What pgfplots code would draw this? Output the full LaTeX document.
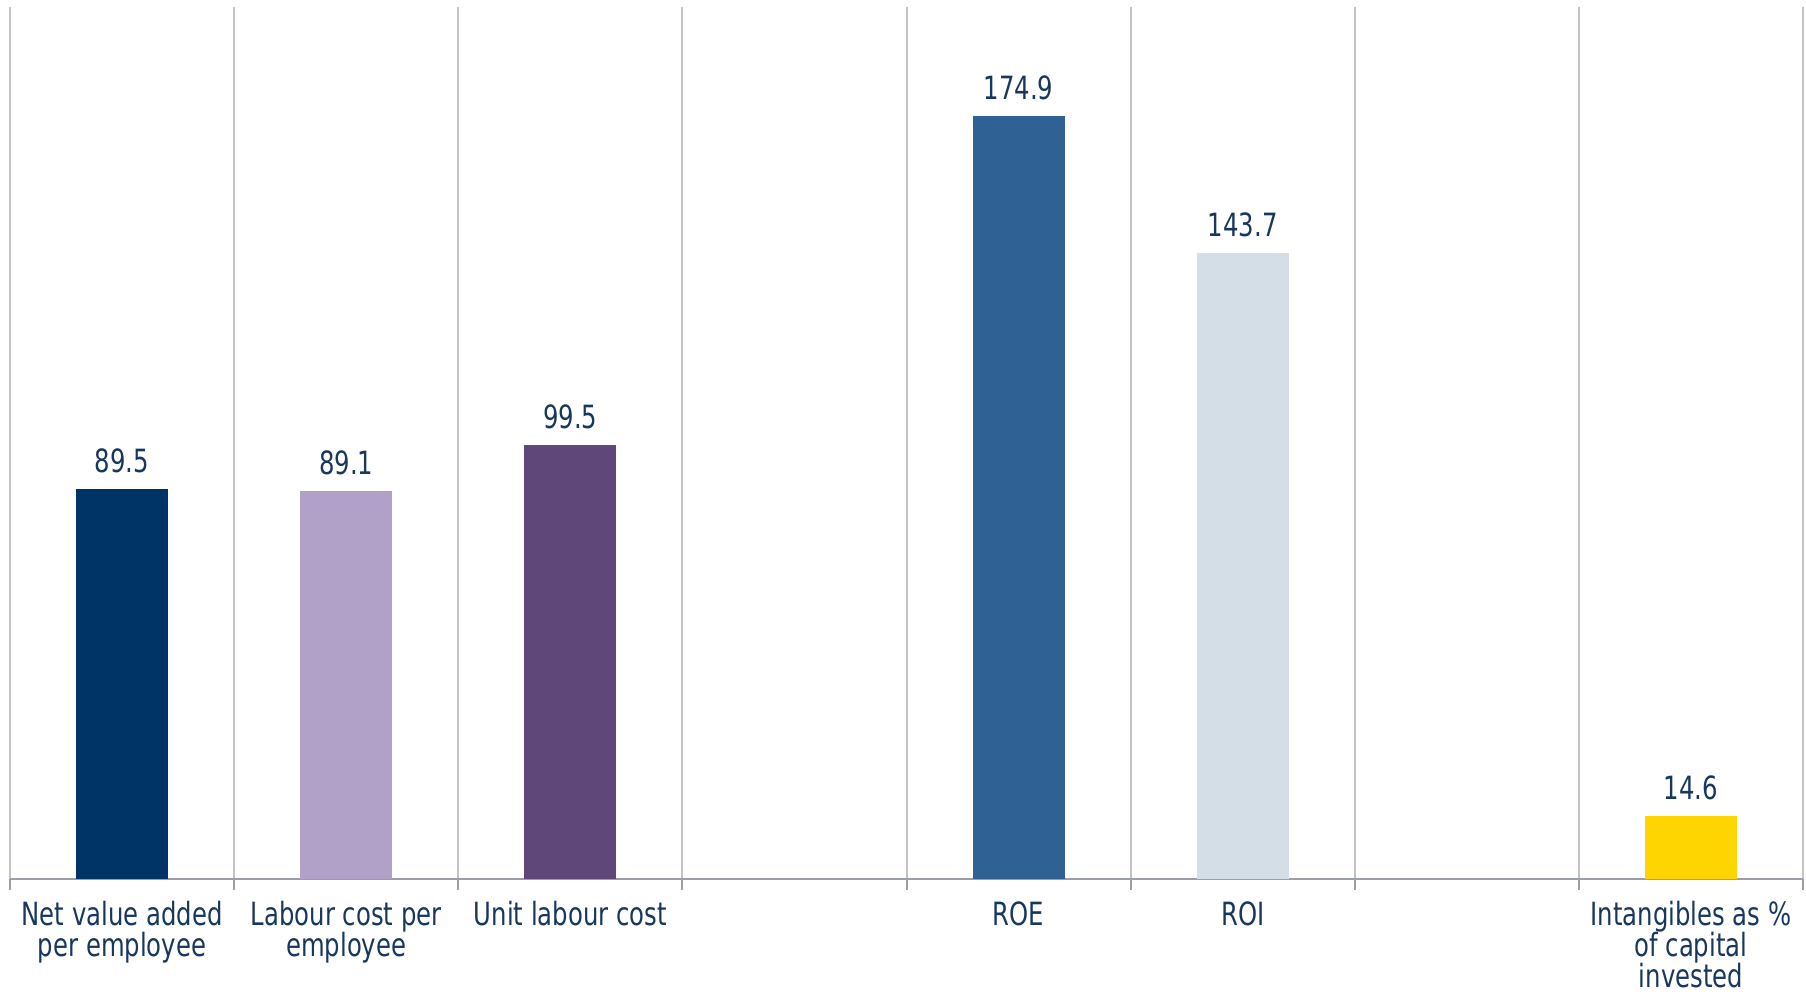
\documentclass[border=0pt]{standalone}
\usepackage{fontspec}
\setmainfont{DejaVu Sans}[FakeStretch=0.76]
\usepackage{pgfplots}
\pgfplotsset{compat=1.18}
\definecolor{txt}{HTML}{17375E}
\definecolor{gridgray}{HTML}{C4C4C4}
\definecolor{axisgray}{HTML}{9A9DAC}
\definecolor{cA}{HTML}{003366}
\definecolor{cB}{HTML}{B1A0C7}
\definecolor{cC}{HTML}{5F4879}
\definecolor{cD}{HTML}{2F6194}
\definecolor{cE}{HTML}{D3DEE7}
\definecolor{cF}{HTML}{FFD500}
\begin{document}
\begin{tikzpicture}
\begin{axis}[
  width=896pt, height=436pt, scale only axis,
  xmin=-0.5, xmax=7.5, ymin=0, ymax=200,
  axis x line=bottom, axis y line=none,
  x axis line style={-, color=axisgray, line width=1pt},
  xtick={0,...,7}, major tick length=0pt,
  xticklabels={{Net value added\\per employee},{Labour cost per\\employee},{Unit labour cost},{},{ROE},{ROI},{},{Intangibles as \%\\of capital\\invested}},
  xticklabel style={align=center, font=\fontsize{16}{15.5}\selectfont, text=txt, yshift=-7.5pt},
  minor xtick={-0.5,0.5,...,7.5},
  xminorgrids, minor grid style={color=gridgray, line width=1pt},
  minor tick length=5pt, tick align=outside,
  minor tick style={color=axisgray, line width=1pt},
  ytick=\empty,
  clip=false,
  ybar, bar width=46pt,
  nodes near coords, point meta=explicit symbolic,
  every node near coord/.append style={font=\fontsize{16}{16}\selectfont, text=txt, yshift=4.5pt},
]
\addplot[fill=cA, draw=none, bar shift=0pt] coordinates {(0,89.5) [89.5]};
\addplot[fill=cB, draw=none, bar shift=0pt] coordinates {(1,89.1) [89.1]};
\addplot[fill=cC, draw=none, bar shift=0pt] coordinates {(2,99.5) [99.5]};
\addplot[fill=cD, draw=none, bar shift=0pt] coordinates {(4,174.9) [174.9]};
\addplot[fill=cE, draw=none, bar shift=0pt] coordinates {(5,143.7) [143.7]};
\addplot[fill=cF, draw=none, bar shift=0pt] coordinates {(7,14.6) [14.6]};
\end{axis}
\pgfresetboundingbox
\path ([xshift=-5pt,yshift=-58pt]current axis.south west) rectangle ([xshift=1.5pt,yshift=3.5pt]current axis.north east);
\end{tikzpicture}
\end{document}
